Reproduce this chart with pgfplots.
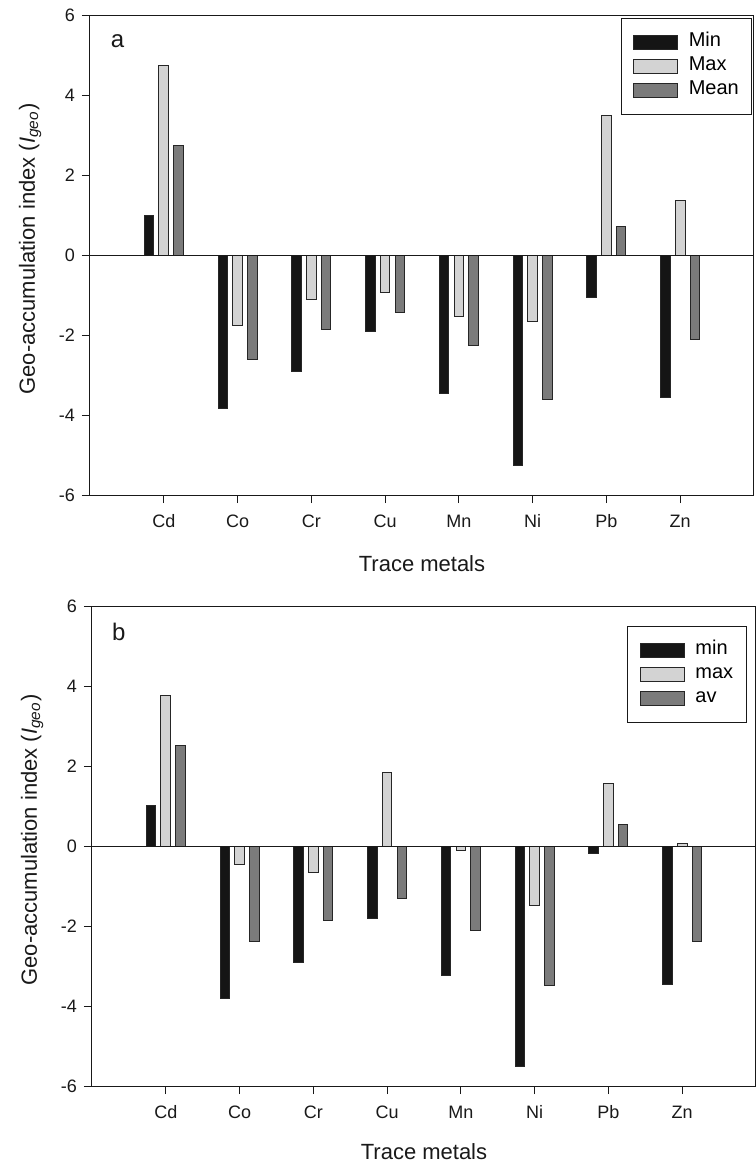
\documentclass[border=0pt]{standalone}
\usepackage{fontspec}
\setmainfont{Liberation Sans}
\usepackage{pgfplots}
\usepackage{pgfplotstable}
\pgfplotsset{compat=1.18}

\definecolor{cmin}{HTML}{151515}
\definecolor{cmax}{HTML}{D3D3D3}
\definecolor{cmean}{HTML}{7B7B7B}

\pgfplotstableread{
x  mn     mx     av
0  1.00   4.75   2.74
1  -3.83  -1.75  -2.61
2  -2.91  -1.10  -1.87
3  -1.90  -0.93  -1.44
4  -3.46  -1.54  -2.27
5  -5.26  -1.66  -3.61
6  -1.05  3.48   0.71
7  -3.57  1.36   -2.12
}\dataA

\pgfplotstableread{
x  mn     mx     av
0  1.01   3.76   2.51
1  -3.82  -0.46  -2.38
2  -2.92  -0.67  -1.85
3  -1.80  1.84   -1.30
4  -3.24  -0.11  -2.10
5  -5.52  -1.49  -3.48
6  -0.18  1.56   0.55
7  -3.47  0.06   -2.38
}\dataB

\pgfplotsset{
  mybar/.style={ybar, bar width=0.13, draw=black!85, line width=0.5pt,
    legend image code/.code={\path[draw=none, fill=none] (0pt,0pt) -- (27pt,0pt);\draw[##1] (0pt,-3.5pt) rectangle (22pt,3.5pt);}},
  panel/.style={
    scale only axis, width=332pt, height=240pt,
    xmin=-1, xmax=8, ymin=-6, ymax=6,
    axis line style={line width=0.5pt, black!90},
    xtick={0,...,7},
    xticklabels={Cd,Co,Cr,Cu,Mn,Ni,Pb,Zn},
    ytick={-6,-4,-2,0,2,4,6},
    yticklabels={-6,-4,-2,0,2,4,6},
    tick align=outside, major tick length=4pt,
    xtick pos=bottom, ytick pos=left,
    tick style={line width=0.5pt, black!90},
    tick label style={font=\fontsize{9}{10}\selectfont, text=black!90},
    xticklabel style={anchor=base, yshift=-12pt},
    yticklabel style={anchor=east},
    label style={font=\fontsize{11}{13}\selectfont, text=black!90},
    xlabel={Trace metals},
    xlabel style={at={(axis description cs:0.5,0)}, anchor=base, inner sep=0pt, yshift=-38.35pt},
    ylabel={Geo-accumulation index (\textit{I}\textsubscript{\textit{geo}})},
    ylabel style={at={(axis description cs:-0.083,0.5125)}, anchor=base, inner sep=0pt},
    legend cell align=left,
    legend style={draw=black!90, line width=0.5pt,
      font=\fontsize{10}{11}\selectfont,
      inner xsep=6pt, inner ysep=6pt, row sep=0pt,
      nodes={inner ysep=0pt, inner xsep=0.5pt, text height=8pt, text depth=4pt}},
  }
}

\begin{document}
\begin{tikzpicture}
\useasboundingbox (0,0) rectangle (378pt,-582pt);

\begin{axis}[panel, at={(45pt,-7.5pt)}, anchor=north west,
  legend style={at={(rel axis cs:0.9975,0.993)}, anchor=north east}]
\addplot[mybar, bar shift=-0.2, fill=cmin] table[x=x, y=mn] {\dataA};
\addplot[mybar, bar shift=0, fill=cmax] table[x=x, y=mx] {\dataA};
\addplot[mybar, bar shift=0.2, fill=cmean] table[x=x, y=av] {\dataA};
\legend{Min, Max, Mean}
\draw[line width=0.5pt, black!90] (axis cs:-1,0) -- (axis cs:8,0);
\node[anchor=base west, inner sep=0pt, font=\fontsize{12}{14}\selectfont, text=black!90] at (rel axis cs:0.031,0.932) {a};
\end{axis}

\begin{axis}[panel, at={(46pt,-303pt)}, anchor=north west,
  xlabel style={yshift=1.6pt},
  legend style={at={(rel axis cs:0.986,0.959)}, anchor=north east}]
\addplot[mybar, bar shift=-0.2, fill=cmin] table[x=x, y=mn] {\dataB};
\addplot[mybar, bar shift=0, fill=cmax] table[x=x, y=mx] {\dataB};
\addplot[mybar, bar shift=0.2, fill=cmean] table[x=x, y=av] {\dataB};
\legend{min, max, av}
\draw[line width=0.5pt, black!90] (axis cs:-1,0) -- (axis cs:8,0);
\node[anchor=base west, inner sep=0pt, font=\fontsize{12}{14}\selectfont, text=black!90] at (rel axis cs:0.0297,0.929) {b};
\end{axis}
\end{tikzpicture}
\end{document}
